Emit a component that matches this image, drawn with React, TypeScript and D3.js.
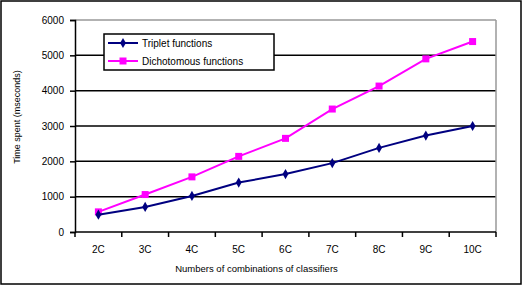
import { useEffect, useRef } from "react";
import * as d3 from "d3";

const categories = ["2C", "3C", "4C", "5C", "6C", "7C", "8C", "9C", "10C"];
const tripletValues = [490, 710, 1020, 1400, 1640, 1950, 2380, 2730, 3000];
const dichotomousValues = [570, 1060, 1560, 2140, 2650, 3480, 4130, 4900, 5390];
const yTicks = [0, 1000, 2000, 3000, 4000, 5000, 6000];

export default function App() {
  const ref = useRef<SVGSVGElement>(null);

  useEffect(() => {
    if (!ref.current) return;
    const width = 522,
      height = 286;
    const margin = { top: 20, right: 26, bottom: 54, left: 75 };
    const font = "Arial, 'Liberation Sans', sans-serif";

    const root = d3.select(ref.current);
    root.selectAll("*").remove();
    root.attr("width", width).attr("height", height);

    // outer frame
    root
      .append("rect")
      .attr("x", 1)
      .attr("y", 1)
      .attr("width", width - 2)
      .attr("height", height - 3)
      .attr("fill", "white")
      .attr("stroke", "black")
      .attr("stroke-width", 1.5);

    const innerW = width - margin.left - margin.right;
    const innerH = height - margin.top - margin.bottom;

    const x = d3.scaleBand().domain(categories).range([0, innerW]);
    const y = d3.scaleLinear().domain([0, 6000]).range([innerH, 0]);

    const svg = root
      .append("g")
      .attr("transform", `translate(${margin.left},${margin.top})`);

    // grid lines
    svg
      .selectAll("line.grid")
      .data(yTicks.filter((t) => t > 0))
      .enter()
      .append("line")
      .attr("x1", 0)
      .attr("x2", innerW)
      .attr("y1", (d) => y(d))
      .attr("y2", (d) => y(d))
      .attr("stroke", (d) => (d === 6000 ? "#999" : "black"))
      .attr("stroke-width", 1.5);

    // right grey border
    svg
      .append("line")
      .attr("x1", innerW)
      .attr("x2", innerW)
      .attr("y1", 0)
      .attr("y2", innerH)
      .attr("stroke", "#999")
      .attr("stroke-width", 1.5);

    // Y axis
    const yAxis = svg
      .append("g")
      .call(
        d3
          .axisLeft(y)
          .tickValues(yTicks)
          .tickFormat(d3.format("d"))
          .tickSize(5)
          .tickPadding(6)
      );
    yAxis.select(".domain").attr("stroke-width", 1.5);
    yAxis.selectAll(".tick line").attr("stroke-width", 1.5);
    yAxis
      .selectAll("text")
      .style("font-family", font)
      .style("font-size", "10px");

    // X axis
    const tickPos = d3.range(categories.length + 1).map((i) => i * x.step());
    const xAxisG = svg
      .append("g")
      .attr("transform", `translate(0,${innerH})`);
    xAxisG
      .append("line")
      .attr("x1", 0)
      .attr("x2", innerW)
      .attr("stroke", "black")
      .attr("stroke-width", 1.5);
    xAxisG
      .selectAll("line.tk")
      .data(tickPos)
      .enter()
      .append("line")
      .attr("x1", (d) => d)
      .attr("x2", (d) => d)
      .attr("y1", 0)
      .attr("y2", 5)
      .attr("stroke", "black")
      .attr("stroke-width", 1.5);
    xAxisG
      .selectAll("text")
      .data(categories)
      .enter()
      .append("text")
      .attr("x", (d) => x(d)! + x.bandwidth() / 2)
      .attr("y", 21)
      .attr("text-anchor", "middle")
      .style("font-family", font)
      .style("font-size", "10px")
      .text((d) => d);

    // axis titles
    svg
      .append("text")
      .attr("x", innerW / 2 - 29)
      .attr("y", innerH + 40)
      .attr("text-anchor", "middle")
      .style("font-family", font)
      .style("font-size", "9.5px")
      .text("Numbers of combinations of classifiers");

    svg
      .append("text")
      .attr("transform", `translate(${-55},${innerH / 2 - 9}) rotate(-90)`)
      .attr("text-anchor", "middle")
      .style("font-family", font)
      .style("font-size", "9px")
      .text("Time spent (mseconds)");

    const cx = (d: string) => x(d)! + x.bandwidth() / 2;
    const line = d3
      .line<number>()
      .x((_, i) => cx(categories[i]))
      .y((d) => y(d));

    // Dichotomous series
    svg
      .append("path")
      .datum(dichotomousValues)
      .attr("d", line)
      .attr("fill", "none")
      .attr("stroke", "#ff00ff")
      .attr("stroke-width", 2);
    svg
      .selectAll("rect.dich")
      .data(dichotomousValues)
      .enter()
      .append("rect")
      .attr("x", (_, i) => cx(categories[i]) - 3.5)
      .attr("y", (d) => y(d) - 3.5)
      .attr("width", 7)
      .attr("height", 7)
      .attr("fill", "#ff00ff");

    // Triplet series
    svg
      .append("path")
      .datum(tripletValues)
      .attr("d", line)
      .attr("fill", "none")
      .attr("stroke", "#000080")
      .attr("stroke-width", 2);
    const diamond = d3.symbol().type(d3.symbolDiamond).size(30);
    svg
      .selectAll("path.trip")
      .data(tripletValues)
      .enter()
      .append("path")
      .attr("d", diamond)
      .attr("transform", (d, i) => `translate(${cx(categories[i])},${y(d)})`)
      .attr("fill", "#000080");

    // legend
    const lg = root.append("g").attr("transform", "translate(104,34)");
    lg.append("rect")
      .attr("width", 170)
      .attr("height", 36)
      .attr("fill", "white")
      .attr("stroke", "black")
      .attr("stroke-width", 1.5);
    const items = [
      { name: "Triplet functions", color: "#000080", shape: "diamond" },
      { name: "Dichotomous functions", color: "#ff00ff", shape: "square" },
    ];
    items.forEach((it, i) => {
      const yy = 9 + i * 18;
      lg.append("line")
        .attr("x1", 4)
        .attr("x2", 34)
        .attr("y1", yy)
        .attr("y2", yy)
        .attr("stroke", it.color)
        .attr("stroke-width", 2);
      if (it.shape === "diamond") {
        lg.append("path")
          .attr("d", diamond)
          .attr("transform", `translate(19,${yy})`)
          .attr("fill", it.color);
      } else {
        lg.append("rect")
          .attr("x", 15.5)
          .attr("y", yy - 3.5)
          .attr("width", 7)
          .attr("height", 7)
          .attr("fill", it.color);
      }
      lg.append("text")
        .attr("x", 38)
        .attr("y", yy + 3.5)
        .style("font-family", font)
        .style("font-size", "10px")
        .text(it.name);
    });
  }, []);

  return (
    <svg
      ref={ref}
      style={{ position: "absolute", left: 0, top: 0, display: "block" }}
    />
  );
}
